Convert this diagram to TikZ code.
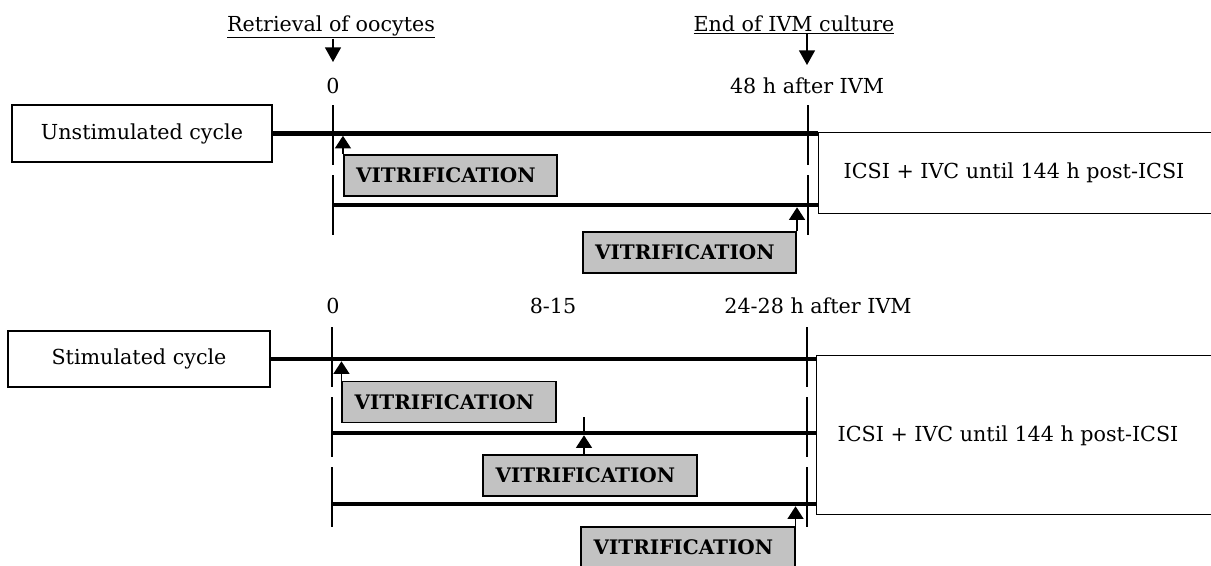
\documentclass[tikz,border=0pt]{standalone}
\usepackage{fontspec}
\setmainfont{DejaVu Serif}
\usetikzlibrary{arrows.meta}
\newcommand{\vitr}{\hspace*{-7pt}VITRIFICATION}
\begin{document}
\begin{tikzpicture}[x=0.75pt,y=-0.75pt,
  txt/.style={font=\fontsize{15.5}{18}\selectfont, inner sep=0pt},
  cyc/.style={draw, line width=1.1pt, inner sep=0pt, font=\fontsize{15.5}{18}\selectfont},
  vit/.style={draw, line width=1.3pt, fill=black!24, inner sep=0pt, minimum width=160pt, minimum height=30.75pt, font=\bfseries\fontsize{15}{17}\selectfont},
  tl/.style={line width=3.4pt},
  vl/.style={line width=1.1pt, dash pattern=on 45pt off 7.5pt},
  thin/.style={line width=1.1pt},
  up/.style={line width=1.1pt, shorten >=1.7pt, -{Triangle[length=9.5pt,width=12pt]}},
  down/.style={line width=1.1pt, -{Triangle[length=11pt,width=12pt]}},
]
\useasboundingbox (0,0) rectangle (1211,565);

% ---------- headers ----------
\node[txt, anchor=base] (ret) at (331,31) {\underline{Retrieval of oocytes}};
\node[txt, anchor=base] (endivm) at (794,31) {\underline{End of IVM culture}};
\coordinate (retTip) at (333,62);
\coordinate (endTip) at (807,65);
\draw[down] (ret.south -| retTip) -- (retTip);
\draw[down] (endivm.south -| endTip) -- (endTip);

% ---------- unstimulated ----------
\node[txt, anchor=base] (zU) at (333,93) {0};
\node[txt, anchor=base] (h48) at (807,93) {48 h after IVM};

\node[cyc, minimum width=195pt, minimum height=42.75pt] (unst) at (142,133.5) {Unstimulated cycle};
\node[cyc, minimum width=309pt, minimum height=60.75pt, anchor=north west] (icsiU) at (818,132) {};
\node[txt] (icsiUt) at (1014,173) {ICSI + IVC until 144 h post-ICSI};

\coordinate (vUa) at (333,105);
\coordinate (vUb) at (333,238);
\coordinate (vUc) at (808,105);
\coordinate (vUd) at (808,238);
\draw[vl] (vUa) -- (vUb);
\draw[vl] (vUc) -- (vUd);

\coordinate (u2s) at (333,205);
\draw[tl] (unst.east) -- (unst.east -| icsiU.west);
\draw[tl] (u2s) -- (u2s -| icsiU.west);

\node[vit] (vu1) at (450.5,175.5) {\vitr};
\node[vit] (vu2) at (689.5,252.5) {\vitr};
\draw[up] (vu1.north west) -- (vu1.north west |- unst.east);
\draw[up] (vu2.north east) -- (vu2.north east |- u2s);

% ---------- stimulated ----------
\node[txt, anchor=base] (zS) at (333,313) {0};
\node[txt, anchor=base] (m815) at (553,313) {8-15};
\node[txt, anchor=base] (h2428) at (818,313) {24-28 h after IVM};

\node[cyc, minimum width=196.5pt, minimum height=42pt] (stim) at (139,359) {Stimulated cycle};
\node[cyc, minimum width=310pt, minimum height=119.25pt, anchor=north west] (icsiS) at (816,355) {};
\node[txt] (icsiSt) at (1008,436) {ICSI + IVC until 144 h post-ICSI};

\coordinate (vSa) at (332,327);
\coordinate (vSb) at (332,535);
\coordinate (vSc) at (807,327);
\coordinate (vSd) at (807,535);
\draw[vl] (vSa) -- (vSb);
\draw[vl] (vSc) -- (vSd);

\coordinate (sB) at (332,433);
\coordinate (sC) at (332,504);
\draw[tl] (stim.east) -- (stim.east -| icsiS.west);
\draw[tl] (sB) -- (sB -| icsiS.west);
\draw[tl] (sC) -- (sC -| icsiS.west);

\coordinate (t815) at (584,417);
\draw[thin] (t815) -- (t815 |- sB);

\node[vit] (vs1) at (449,402) {\vitr};
\node[vit] (vs2) at (590,475.5) {\vitr};
\node[vit] (vs3) at (688,547.5) {\vitr};
\draw[up] (vs1.north west) -- (vs1.north west |- stim.east);
\draw[up] (t815 |- vs2.north) -- (t815 |- sB);
\draw[up] (vs3.north east) -- (vs3.north east |- sC);
\end{tikzpicture}
\end{document}
